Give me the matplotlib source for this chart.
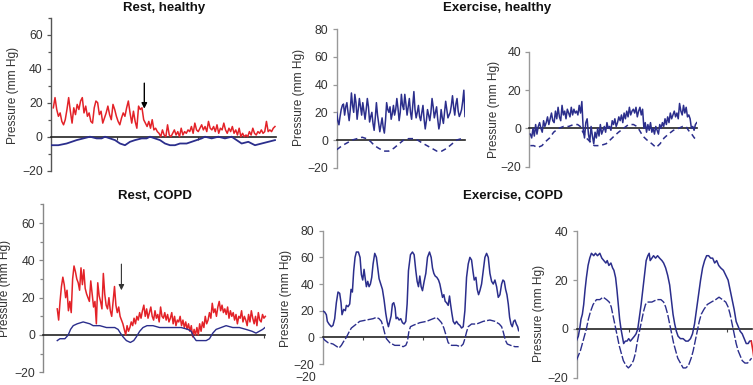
import numpy as np
import matplotlib
matplotlib.use("Agg")
import matplotlib.pyplot as plt

plt.rcParams['font.family'] = ['Liberation Sans', 'DejaVu Sans']

RED = '#e32228'
BLUE = '#2b2e8c'

# ---------------- data ----------------
# Panel 1: Rest, healthy (time units arbitrary)
red1 = [17, 23, 16, 12, 14, 9, 7, 10, 16, 23, 15, 8, 17, 13, 19, 16, 21, 23, 14, 18,
        12, 14, 9, 8, 17, 21, 20, 13, 15, 8, 11, 14, 18, 13, 10, 19, 16, 12, 9, 7,
        11, 14, 12, 17, 21, 14, 8, 15, 9, 5, 18, 16, 17, 10, 8, 6, 9, 5, 10, 4,
        5, 3, 2, 0, 4, 1, 0, 7, 1, 0, 2, 4, 1, 3, 0, 5, 1, 3, 2, 4,
        3, 6, 2, 8, 4, 3, 5, 7, 4, 6, 3, 9, 5, 4, 6, 3, 7, 2, 5, 4,
        8, 4, 2, 5, 3, 6, 2, 4, 1, 5, 0, 2, 0, 1, 0, 3, 1, 5, 2, 1,
        3, 2, 4, 2, 3, 9, 3, 4, 3, 5, 6]
red1_span = (160, 825)
blue1_t = [153, 175, 200, 215, 230, 250, 270, 290, 305, 315, 330, 345, 360, 375, 390, 405,
           425, 440, 450, 465, 480, 495, 510, 525, 540, 560, 575, 590, 605, 615, 635, 655,
           675, 695, 710, 725, 745, 765, 785, 805, 825]
blue1_v = [-5, -5, -4, -3, -2, -1, 0, -1, -1, 0, -1, -2, -4, -5, -3, -2,
           -1, -1, 0, -1, -2, -4, -5, -5, -4, -4, -3, -2, -1, 0, -1, 0,
           -1, 0, -2, -4, -3, -5, -4, -3, -2]

# Panel 2: Exercise, healthy (left)
solid2 = [20, 14, 11, 17, 22, 25, 26, 18, 24, 27, 20, 14, 22, 34, 25, 20, 33, 27, 15, 22,
          30, 24, 18, 27, 21, 15, 22, 30, 24, 13, 17, 20, 12, 7, 16, 27, 18, 12, 6, 11,
          16, 9, 5, 14, 27, 22, 20, 24, 15, 19, 25, 18, 22, 30, 23, 14, 20, 33, 25, 22,
          33, 26, 18, 24, 30, 20, 15, 25, 35, 22, 16, 20, 25, 17, 14, 20, 25, 15, 8, 14,
          22, 18, 14, 20, 30, 24, 16, 20, 24, 15, 8, 12, 22, 16, 12, 20, 28, 22, 16, 18,
          20, 25, 32, 24, 18, 26, 30, 21, 17, 19, 22, 28, 36, 17]
solid2_span = (168, 555)
dash2_t = [168, 185, 200, 215, 230, 245, 258, 270, 282, 295, 310, 325, 340, 355, 370, 385,
           400, 412, 425, 440, 455, 470, 485, 500, 515, 530, 545, 553]
dash2_v = [-7, -4, -2, 0, 1, 2, 1, -1, -4, -6, -8, -8, -6, -3, 0, 1,
           1, 0, -2, -4, -6, -8, -8, -6, -3, 0, 1, 2]

# Panel 3: Exercise, healthy (right)
solid3 = [-3, -5, 0, -4, 2, -3, 1, 3, 0, -2, 4, 1, 3, 6, 2, 5, 8, 4, 3, 9,
          5, 11, 6, 4, 12, 7, 9, 5, 10, 8, 6, 11, 7, 10, 8, 9, 7, 12, 8, 14,
          0, -5, 3, 5, -3, -7, 1, -4, -8, -2, -5, 0, -4, 2, -3, -1, 1, -2, 3, 0,
          1, -1, 4, 2, 5, 1, 3, 6, 4, 7, 3, 8, 5, 9, 6, 11, 7, 9, 10, 8,
          11, 6, 9, 11, 7, 10, 0, 3, -2, 2, -1, 3, -2, 0, -3, 1, -1, -3, 2, 0,
          3, 1, 5, 2, 6, 3, 8, 5, 7, 9, 6, 8, 5, 13, 9, 7, 12, 8, 11, 6,
          7, 5, 0, 1, -1, 2, 3]
solid3_span = (90, 590)
dash3_t = [90, 100, 112, 125, 135, 148, 160, 175, 190, 205, 220, 232, 240, 248, 258, 270,
           282, 300, 318, 330, 342, 355, 370, 385, 400, 410, 418, 428, 440, 455, 468, 480,
           492, 505, 520, 535, 548, 558, 565, 575, 583, 590]
dash3_v = [-9, -9, -10, -9, -7, -5, -2, 0, 1, 1, 2, 2, 1, -2, -5, -7,
           -9, -9, -8, -6, -4, -2, 0, 2, 2, 1, -1, -4, -6, -8, -10, -8,
           -5, -3, -1, 0, 1, 1, -1, -3, -5, -6]

# Panel 4: Rest, COPD
red4 = [14, 8, 18, 26, 31, 27, 20, 24, 13, 18, 12, 30, 37, 34, 30, 28, 24, 36, 27, 35,
        25, 22, 20, 18, 29, 22, 15, 18, 6, 28, 21, 18, 14, 33, 22, 16, 14, 20, 13, 10,
        18, 26, 16, 12, 15, 10,
        8, 6, 3, 0, 5, 2, 4, 7, 5, 9, 6, 10, 8, 12, 9, 13, 16, 10, 14, 9,
        12, 15, 10, 8, 13, 9, 11, 7, 15, 10, 9, 12, 8, 11, 7, 9, 12, 6, 10, 5,
        8, 7, 10, 5, 8, 4, 7, 3, 6, 2, 5, -1, 3, 0,
        4, 0, 6, 2, 7, 4, 10, 6, 8, 12, 9, 17, 12, 14, 10, 15, 18, 13, 16, 12,
        14, 11, 15, 9, 13, 10, 12, 8, 11, 6, 10, 9, 13, 7, 10, 8, 5, 11, 7, 13,
        9, 6, 10, 5, 12, 8, 7, 11, 9, 10]
red4_span = (172, 798)
blue4_t = [172, 180, 195, 205, 212, 220, 232, 250, 270, 280, 300, 320, 345, 355, 362, 370,
           380, 392, 402, 410, 420, 430, 442, 460, 480, 500, 520, 545, 565, 575, 582, 590,
           605, 620, 630, 640, 650, 665, 680, 700, 720, 740, 758, 770, 780, 790, 797]
blue4_v = [-3, -2, -2, 0, 3, 5, 6, 7, 6, 5, 5, 4, 4, 3, 1, -1,
           -3, -4, -3, -1, 2, 4, 5, 5, 4, 4, 4, 4, 3, 2, -1, -3,
           -3, -3, -2, 1, 3, 4, 5, 4, 4, 3, 2, 1, 2, 3, 4]

# Panel 5: Exercise, COPD (left)
solid5_t = [128, 135, 140, 143, 148, 155, 160, 165, 170, 175, 180, 184, 187, 192, 197, 200,
            205, 210, 214, 218, 222, 226, 230, 236, 241, 245, 249, 253, 256, 260, 264, 268,
            272, 276, 280, 285, 290, 294, 298, 303, 308, 313, 318, 322, 326, 330, 334, 338,
            342, 346, 349, 353, 358, 363, 368, 373, 378, 382, 386, 392, 398, 403, 408, 412,
            416, 420, 424, 428, 433, 438, 443, 449, 454, 458, 462, 466, 471, 476, 480, 484,
            488, 492, 496, 500, 505, 509, 512, 516, 520, 525, 530, 535, 540, 545, 550, 555,
            560, 565, 570, 575, 579, 583, 588, 592, 596, 600, 605, 610, 615, 620, 625, 630,
            635, 640, 645, 650, 655, 660, 665, 669, 673, 677, 681, 685, 689, 693, 697, 701,
            705, 709, 713, 716]
solid5_v = [20, 19, 17, 12, 10, 8, 9, 14, 26, 34, 33, 26, 17, 21, 20, 24,
            23, 25, 36, 34, 50, 60, 64, 64, 60, 47, 43, 51, 45, 38, 42, 38,
            40, 45, 55, 63, 60, 52, 44, 40, 36, 28, 18, 12, 8, 12, 16, 25,
            26, 22, 14, 15, 13, 14, 11, 10, 12, 25, 50, 62, 64, 62, 50, 42,
            38, 46, 38, 35, 42, 48, 60, 64, 60, 52, 48, 46, 45, 43, 40, 35,
            30, 32, 27, 26, 24, 31, 25, 18, 12, 10, 12, 10, 9, 7, 8, 20,
            45, 55, 60, 58, 50, 43, 45, 36, 32, 35, 40, 50, 60, 63, 60, 48,
            42, 40, 43, 38, 30, 32, 40, 43, 42, 36, 32, 25, 15, 10, 8, 12,
            13, 10, 8, 5]
dash5_t = [128, 135, 145, 160, 172, 178, 185, 192, 200, 208, 215, 225, 240, 260, 280, 290,
           298, 305, 310, 315, 320, 330, 345, 360, 370, 378, 383, 387, 392, 400, 420, 440,
           460, 470, 478, 485, 492, 498, 505, 515, 530, 542, 550, 555, 560, 565, 575, 590,
           610, 630, 645, 658, 665, 670, 676, 682, 692, 705, 716]
dash5_v = [0, -2, -4, -5, -7, -8, -6, -3, 0, 4, 7, 9, 12, 13, 14, 15,
           14, 12, 8, 3, -1, -4, -6, -6, -7, -6, -3, 4, 8, 9, 11, 12,
           14, 15, 13, 11, 7, 2, -4, -6, -6, -7, -5, -1, 4, 8, 10, 10,
           12, 13, 12, 10, 8, 4, -2, -5, -6, -7, -7]

# Panel 6: Exercise, COPD (right)
solid6_t = [230, 236, 240, 244, 248, 252, 256, 260, 265, 270, 275, 282, 287, 293, 300, 306,
            312, 318, 322, 327, 333, 338, 342, 347, 351, 355, 359, 363, 367, 371, 376, 381,
            386, 391, 397, 403, 408, 413, 418, 423, 428, 433, 438, 443, 447, 450, 455, 460,
            466, 472, 478, 485, 490, 496, 502, 508, 513, 518, 523, 528, 533, 540, 548, 556,
            563, 570, 576, 582, 588, 594, 600, 606, 612, 618, 624, 630, 636, 642, 648, 654,
            660, 668, 675, 682, 688, 694, 700, 706, 712, 718, 724, 730, 736, 742, 746, 750, 752]
solid6_v = [-5, -3, 0, 4, 6, 10, 16, 21, 26, 29, 31, 30, 31, 30, 31, 29,
            28, 27, 28, 26, 27, 25, 24, 21, 16, 10, 4, 0, -3, -6, -5, -5,
            -4, -5, -4, -3, -2, 0, 5, 10, 16, 22, 28, 30, 31, 28, 29, 30,
            29, 30, 29, 28, 27, 25, 22, 18, 12, 6, 2, -1, -3, -4, -4, -5,
            -5, -4, -2, 2, 8, 14, 20, 25, 28, 30, 30, 29, 29, 27, 28, 26,
            25, 24, 22, 20, 16, 12, 8, 3, 1, -1, -2, -4, -6, -6, -5, -5, -5]
dash6_t = [230, 236, 242, 248, 254, 260, 266, 272, 280, 290, 300, 310, 320, 328, 334, 340,
           346, 352, 358, 364, 370, 378, 385, 392, 400, 406, 412, 418, 424, 430, 436, 442,
           455, 470, 482, 490, 496, 502, 508, 514, 520, 526, 532, 540, 548, 556, 564, 572,
           578, 584, 590, 596, 602, 610, 620, 632, 645, 655, 665, 675, 682, 688, 694, 700,
           706, 712, 718, 724, 732, 740, 746, 752]
dash6_v = [-13, -11, -9, -6, -3, 0, 4, 7, 10, 12, 12, 13, 12, 11, 9, 5,
           1, -3, -7, -10, -13, -15, -16, -15, -13, -10, -5, -1, 3, 7, 10, 11,
           11, 12, 12, 11, 9, 6, 2, -2, -6, -9, -12, -14, -16, -16, -15, -12,
           -9, -5, -1, 3, 6, 8, 10, 11, 12, 13, 12, 11, 9, 6, 2, -2,
           -6, -9, -11, -13, -14, -14, -13, -12]
red6_t = [751, 756, 759]
red6_v = [-5, -9, -12]

titles = ["Rest, healthy", "Exercise, healthy", "Rest, COPD", "Exercise, COPD"]
ylabel = "Pressure (mm Hg)"

FS = 8.8

# ---------------- figure ----------------
fig = plt.figure(figsize=(7.53, 3.85), dpi=100)

def make_ax(rect, xlim, ylim, yticks, spine_col, minor=None, xticks=(), labx=-0.2, laby=0.5):
    ax = fig.add_axes(rect)
    ax.set_xlim(*xlim)
    ax.set_ylim(*ylim)
    for s in ['top', 'right']:
        ax.spines[s].set_visible(False)
    ax.spines['left'].set_color(spine_col)
    ax.spines['left'].set_linewidth(1.0)
    ax.spines['bottom'].set_position(('data', 0))
    ax.spines['bottom'].set_color('#222222')
    ax.spines['bottom'].set_linewidth(1.2)
    ax.set_yticks(yticks)
    ax.set_yticklabels([str(v).replace('-', '\u2212') for v in yticks])
    if minor is not None:
        ax.set_yticks(minor, minor=True)
    ax.tick_params(axis='y', which='both', direction='out', length=3, width=0.9,
                   color=spine_col, labelsize=FS, labelcolor='#333333', pad=3)
    ax.tick_params(axis='y', which='minor', length=2)
    ax.set_xticks(list(xticks))
    ax.tick_params(axis='x', direction='out', length=2.5, width=0.8, color='#444444',
                   labelbottom=False)
    ax.set_ylabel(ylabel, fontsize=8.6, color='#333333')
    ax.yaxis.set_label_coords(labx, laby)
    ax.patch.set_alpha(0)
    return ax

# Panel 1
ax1 = make_ax([0.0677, 0.5566, 0.2988, 0.3974], (153, 828), (-20, 70), [-20, 0, 20, 40, 60],
              '#555555', minor=[-10, 10, 30, 50, 70], xticks=[350, 595], labx=-0.142, laby=0.49)
t = np.linspace(red1_span[0], red1_span[1], len(red1))
ax1.plot(t, red1, color=RED, lw=1.1, zorder=3)
ax1.plot(blue1_t, blue1_v, color=BLUE, lw=1.3, zorder=3)
ax1.annotate('', xy=(433, 16.5), xytext=(433, 31.5),
             arrowprops=dict(arrowstyle='-|>', color='black', lw=1.0, mutation_scale=8,
                             shrinkA=0, shrinkB=0))

# Panel 2
ax2 = make_ax([0.4471, 0.5644, 0.1704, 0.3595], (168, 555), (-20, 80), [-20, 0, 20, 40, 60, 80],
              '#999999', labx=-0.247, laby=0.51)
t = np.linspace(solid2_span[0], solid2_span[1], len(solid2))
ax2.plot(t, solid2, color=BLUE, lw=1.1, zorder=3)
ax2.plot(dash2_t, dash2_v, color=BLUE, lw=1.1, ls=(0, (3.5, 2.5)), zorder=3)

# Panel 3
ax3 = make_ax([0.7030, 0.5670, 0.2227, 0.2987], (87, 591), (-20, 40), [-20, 0, 20, 40],
              '#999999', labx=-0.175, laby=0.5)
t = np.linspace(solid3_span[0], solid3_span[1], len(solid3))
ax3.plot(t, solid3, color=BLUE, lw=1.1, zorder=3)
ax3.plot(dash3_t, dash3_v, color=BLUE, lw=1.1, ls=(0, (3.5, 2.5)), zorder=3)

# Panel 4
ax4 = make_ax([0.0575, 0.0330, 0.2944, 0.4360], (130, 797), (-20, 70), [-20, 0, 20, 40, 60],
              '#888888', minor=[-10, 10, 30, 50, 70], xticks=[795], labx=-0.146, laby=0.5)
t = np.linspace(red4_span[0], red4_span[1], len(red4))
ax4.plot(t, red4, color=RED, lw=1.1, zorder=3, clip_on=False)
ax4.plot(blue4_t, blue4_v, color=BLUE, lw=1.0, zorder=3)
ax4.annotate('', xy=(365, 24), xytext=(365, 38),
             arrowprops=dict(arrowstyle='-|>', color='#333333', lw=0.8, mutation_scale=8,
                             shrinkA=0, shrinkB=0))

# Panel 5
ax5 = make_ax([0.4285, 0.0545, 0.2607, 0.3463], (129, 717), (-20, 80), [-20, 0, 20, 40, 60, 80],
              '#999999', xticks=[250, 430], labx=-0.156, laby=0.49)
ax5.plot(solid5_t, solid5_v, color=BLUE, lw=1.1, zorder=3)
ax5.plot(dash5_t, dash5_v, color=BLUE, lw=1.0, ls=(0, (6, 1.5)), zorder=3)
ax5.text(-0.035, -30.5, '\u221220', transform=ax5.get_yaxis_transform(), ha='right',
         va='center', fontsize=FS, color='#333333')

# Panel 6
ax6 = make_ax([0.7658, 0.0190, 0.2328, 0.3802], (231, 753), (-20, 40), [-20, 0, 20, 40],
              '#999999', xticks=[388, 678], labx=-0.181, laby=0.44)
ax6.plot(solid6_t, solid6_v, color=BLUE, lw=1.1, zorder=3)
ax6.plot(dash6_t, dash6_v, color=BLUE, lw=1.0, ls=(0, (6, 1.5)), zorder=3)
ax6.plot(red6_t, red6_v, color=RED, lw=1.2, zorder=3, clip_on=False)

# Titles
kw = dict(fontsize=9.5, fontweight='bold', ha='center', va='center', color='#111111')
fig.text(164 / 753, 1 - 8 / 385, titles[0], **kw)
fig.text(497 / 753, 1 - 8 / 385, titles[1], **kw)
fig.text(155 / 753, 1 - 196 / 385, titles[2], **kw)
fig.text(513 / 753, 1 - 196 / 385, titles[3], **kw)

fig.savefig('out.png', dpi=100)
